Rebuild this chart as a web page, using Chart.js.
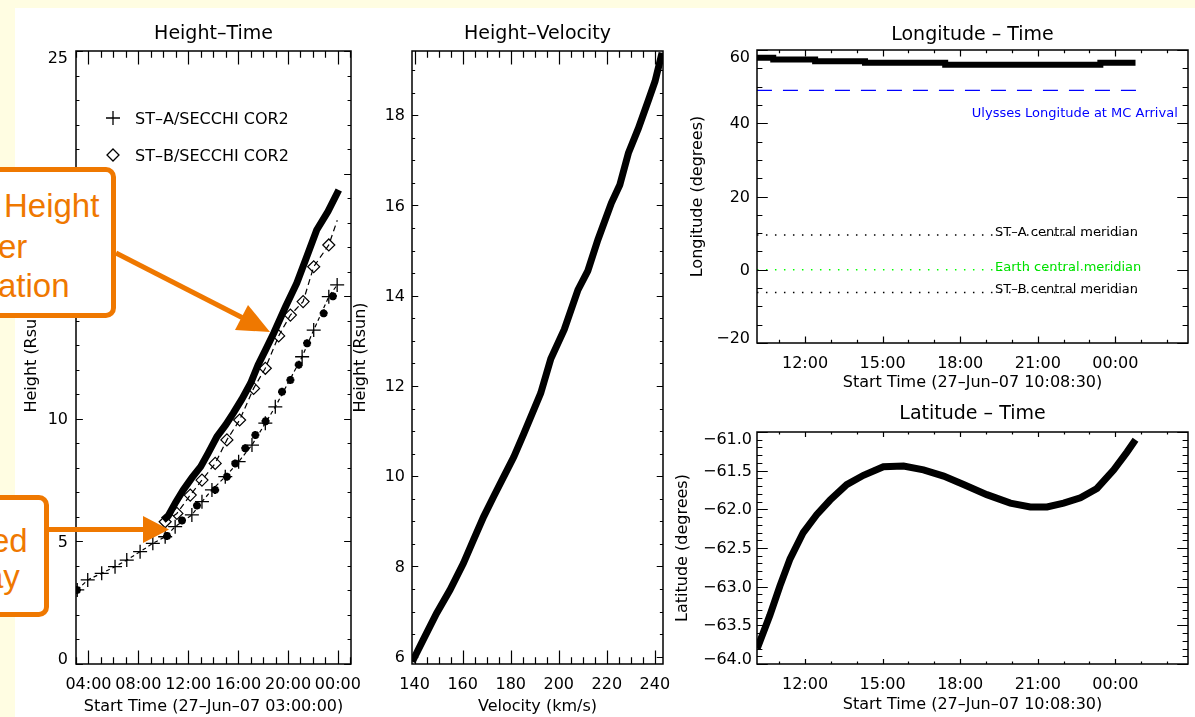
<!DOCTYPE html>
<html>
<head>
<meta charset="utf-8">
<script src="https://cdn.jsdelivr.net/npm/chart.js@4.4.1/dist/chart.umd.min.js"></script>
<style>
  html, body { margin: 0; padding: 0; }
  body { width: 1195px; height: 717px; background: #fffde2; position: relative; overflow: hidden; }
  #sheet { position: absolute; left: 15px; top: 8px; width: 1180px; height: 709px; background: #fff; }
  canvas { position: absolute; }
  .note { position: absolute; background: #fff; border: 5px solid #ef7800; border-radius: 10px; box-sizing: border-box; }
  .nt { position: absolute; color: #ef7800; font-family: 'Liberation Sans', Arial, sans-serif; font-size: 33px; line-height: 1; white-space: nowrap; }
  #arrows { position: absolute; left: 0; top: 0; }
</style>
</head>
<body>
<div id="sheet"></div>
<canvas id="c1" width="384" height="707" style="left:16px;top:10px"></canvas>
<canvas id="c2" width="350" height="707" style="left:340px;top:10px"></canvas>
<canvas id="c3" width="525" height="390" style="left:670px;top:10px"></canvas>
<canvas id="c4" width="525" height="322" style="left:670px;top:395px"></canvas>

<div class="note" style="left:-60px;top:167px;width:176px;height:151px"></div>
<span class="nt" style="left:4px;top:189px">Height</span>
<span class="nt" style="left:-2px;top:230px">er</span>
<span class="nt" style="left:-2px;top:269px">ation</span>
<div class="note" style="left:-60px;top:495px;width:109px;height:122px"></div>
<span class="nt" style="left:-9px;top:524px">ed</span>
<span class="nt" style="left:-15px;top:560px">ay</span>
<svg id="arrows" width="1195" height="717">
  <line x1="116" y1="253" x2="242" y2="317.5" stroke="#ef7800" stroke-width="5"/>
  <polygon points="270,332 235,330 248,305" fill="#ef7800"/>
  <line x1="48" y1="529.5" x2="145" y2="529.5" stroke="#ef7800" stroke-width="5"/>
  <polygon points="143,516 143,543 169,529.5" fill="#ef7800"/>
</svg>

<script>
// Height-Time (hours from 27-Jun-07 00:00)
const fitTime = [10.0, 10.4, 11.0, 11.6, 12.3, 13.0, 13.6, 14.3, 15.0, 15.6, 16.3, 17.0, 17.6, 18.2, 18.85, 19.8, 20.7, 21.5, 22.3, 23.2, 24.07];
const fitHeight = [5.87, 6.05, 6.6, 7.1, 7.6, 8.05, 8.6, 9.27, 9.75, 10.22, 10.8, 11.45, 12.2, 12.81, 13.49, 14.57, 15.53, 16.61, 17.7, 18.45, 19.33];
const stATime = [3.1, 3.94, 5.06, 6.13, 7.07, 8.14, 9.16, 10.15, 10.95, 12.29, 13.1, 13.9, 14.97, 16.04, 17.11, 18.18, 18.98, 21.13, 22.06, 23.27, 23.94];
const stAHeight = [3.02, 3.43, 3.7, 3.97, 4.24, 4.58, 4.92, 5.19, 5.6, 6.08, 6.62, 7.1, 7.64, 8.25, 8.93, 9.82, 10.49, 12.53, 13.62, 14.98, 15.46];
const starTime = [3.08, 10.3, 11.5, 12.7, 14.16, 15.1, 15.77, 16.57, 17.38, 18.2, 19.52, 20.19, 20.86, 21.53, 22.86, 23.6];
const starHeight = [3.02, 5.22, 5.85, 6.46, 7.1, 7.64, 8.18, 8.8, 9.34, 9.9, 11.1, 11.58, 12.2, 13.08, 14.3, 15.0];
const stBTime = [10.15, 11.09, 12.16, 13.1, 14.16, 15.1, 16.12, 17.24, 18.18, 19.25, 20.19, 21.21, 22.06, 23.27, 23.95];
const stBHeight = [5.8, 6.14, 6.89, 7.5, 8.18, 9.14, 9.95, 11.24, 12.06, 13.38, 14.23, 14.78, 16.2, 17.09, 18.1];
const htTimeTicks = [4, 8, 12, 16, 20, 24];
const htHeightTicks = [0, 5, 10, 15, 20, 25];

// Height-Velocity
const hvVelocity = [139.0, 143.5, 149.1, 154.7, 160.3, 164.5, 168.7, 172.9, 177.1, 181.3, 185.5, 192.5, 196.7, 202.3, 208.0, 212.1, 216.3, 221.9, 225.4, 229.0, 233.1, 237.4, 240.1, 243.0];
const hvHeight = [5.89, 6.37, 6.96, 7.48, 8.07, 8.59, 9.1, 9.55, 9.99, 10.43, 10.95, 11.84, 12.6, 13.25, 14.13, 14.55, 15.24, 16.05, 16.45, 17.16, 17.7, 18.34, 18.75, 19.38];
const hvVelTicks = [140, 160, 180, 200, 220, 240];
const hvHeightTicks = [6, 8, 10, 12, 14, 16, 18];

// Longitude-Time
const lonTime = [10.14, 10.77, 12.39, 14.32, 17.42, 23.42, 24.78];
const lonValue = [57.9, 57.4, 56.9, 56.5, 56.0, 56.5, 56.5];
const refStart = 10.14, refEnd = 24.8;
const ulyssesLon = 49.0, stALon = 9.5, earthLon = 0, stBLon = -6.2;
const lonTicks = [-20, 0, 20, 40, 60];
const clockTicks = [12, 15, 18, 21, 24];

// Latitude-Time
const latTime = [10.15, 10.64, 11.03, 11.42, 11.93, 12.45, 12.97, 13.61, 14.26, 15.03, 15.81, 16.58, 17.36, 18.13, 19.03, 19.94, 20.71, 21.36, 22.0, 22.65, 23.29, 23.94, 24.45, 24.78];
const latValue = [-63.8, -63.37, -62.99, -62.64, -62.3, -62.07, -61.88, -61.68, -61.56, -61.45, -61.44, -61.49, -61.57, -61.68, -61.81, -61.92, -61.97, -61.97, -61.92, -61.85, -61.73, -61.49, -61.26, -61.1];
const latTicks = [-64, -63.5, -63, -62.5, -62, -61.5, -61];

Chart.defaults.font.family = "'DejaVu Sans', sans-serif";
Chart.defaults.font.size = 16;
Chart.defaults.color = '#000';
Chart.defaults.animation = false;

const pts = (xs, ys) => xs.map((x, i) => ({ x: x, y: ys[i] }));
const minus = s => String(s).replace('-', '\u2212');
const clock = v => String(v % 24).padStart(2, '0') + ':00';
const plain = v => String(v);

function steps(min, max, step) {
    const out = [];
    for (let i = Math.ceil(min / step - 1e-9); i * step <= max + 1e-9; i++) out.push(i * step);
    return out;
}

// IDL style box with inward ticks on all four sides
const idlFrame = {
    id: 'idlFrame',
    afterDatasetsDraw(chart, args, o) {
        const { ctx, chartArea: a, scales: { x, y } } = chart;
        const xl = a.height * 0.022, yl = a.width * 0.025;
        const major = (v, m) => Math.abs(v / m - Math.round(v / m)) < 1e-6;
        ctx.save();
        ctx.strokeStyle = '#000';
        ctx.lineWidth = 1.2;
        ctx.beginPath();
        steps(x.min, x.max, o.xMinor).forEach(v => {
            const px = Math.round(x.getPixelForValue(v)) + 0.5;
            const len = major(v, o.xMajor) ? xl : xl / 2;
            ctx.moveTo(px, a.bottom); ctx.lineTo(px, a.bottom - len);
            ctx.moveTo(px, a.top); ctx.lineTo(px, a.top + len);
        });
        steps(y.min, y.max, o.yMinor).forEach(v => {
            const py = Math.round(y.getPixelForValue(v)) + 0.5;
            const len = major(v, o.yMajor) ? yl : yl / 2;
            ctx.moveTo(a.left, py); ctx.lineTo(a.left + len, py);
            ctx.moveTo(a.right, py); ctx.lineTo(a.right - len, py);
        });
        ctx.stroke();
        ctx.lineWidth = 1.5;
        ctx.strokeRect(a.left, a.top, a.width, a.height);

        // y tick labels, end labels kept inside the box like IDL does
        ctx.fillStyle = '#000';
        ctx.font = "16px 'DejaVu Sans'";
        ctx.textAlign = 'right';
        ctx.textBaseline = 'middle';
        o.yTicks.forEach(v => {
            const py = Math.min(Math.max(y.getPixelForValue(v), a.top + 6.5), a.bottom - 5);
            ctx.fillText(o.yFmt(v), a.left - o.yPad, py + 1);
        });
        ctx.restore();
    }
};

// panel titles, line notes and the small legend
const panelText = {
    id: 'panelText',
    afterDraw(chart, args, o) {
        const { ctx, chartArea: a, scales: { x, y } } = chart;
        ctx.save();
        ctx.fillStyle = '#000';
        ctx.font = "19px 'DejaVu Sans'";
        ctx.textAlign = 'center';
        ctx.textBaseline = 'middle';
        ctx.fillText(o.title, (a.left + a.right) / 2, a.top - o.titleGap);
        ctx.textAlign = 'left';
        ctx.textBaseline = 'alphabetic';
        (o.notes || []).forEach(n => {
            ctx.font = "13px 'DejaVu Sans'";
            ctx.fillStyle = n.color;
            ctx.fillText(n.text, x.getPixelForValue(n.x), y.getPixelForValue(n.y) + n.dy);
        });
        (o.legend || []).forEach((item, i) => {
            const cx = a.left + 37, cy = a.top + 67 + i * 37;
            ctx.strokeStyle = '#000';
            ctx.lineWidth = 1.3;
            ctx.beginPath();
            if (item.sym === 'plus') {
                ctx.moveTo(cx - 7, cy); ctx.lineTo(cx + 7, cy);
                ctx.moveTo(cx, cy - 7); ctx.lineTo(cx, cy + 7);
            } else {
                ctx.moveTo(cx, cy - 6); ctx.lineTo(cx + 6, cy);
                ctx.lineTo(cx, cy + 6); ctx.lineTo(cx - 6, cy); ctx.closePath();
            }
            ctx.stroke();
            ctx.fillStyle = '#000';
            ctx.font = "16px 'DejaVu Sans'";
            ctx.fillText(item.text, a.left + 59, cy + 6);
        });
        ctx.restore();
    }
};

Chart.register(idlFrame, panelText);

function axis(c) {
    return {
        type: 'linear',
        min: c.min,
        max: c.max,
        grid: { display: false, drawTicks: false },
        border: { display: false },
        ticks: { display: !c.vertical, autoSkip: false, maxRotation: 0, padding: c.labelPad, callback: c.fmt },
        title: {
            display: true, text: c.title, font: { size: 16 },
            padding: c.vertical ? { top: c.titlePad } : { bottom: c.titlePad }
        },
        afterBuildTicks: s => { s.ticks = c.ticks.map(v => ({ value: v })); },
        afterFit: s => { if (c.vertical) s.width = c.size; else s.height = c.size; }
    };
}

function baseOptions(pad, xs, ys, frame, text) {
    return {
        responsive: false,
        devicePixelRatio: 1,
        layout: { padding: { top: pad.top, right: pad.right, left: 0, bottom: 0 } },
        scales: { x: xs, y: ys },
        plugins: { legend: { display: false }, tooltip: { enabled: false }, idlFrame: frame, panelText: text }
    };
}

new Chart(document.getElementById('c1'), {
    type: 'scatter',
    data: {
        datasets: [
            { data: pts(stATime, stAHeight), showLine: true, borderColor: '#000', borderWidth: 1.2, borderDash: [4, 3],
              pointStyle: 'cross', pointRadius: 7, pointBorderWidth: 1.3, pointBorderColor: '#000' },
            { data: pts(starTime, starHeight), showLine: false, pointStyle: 'star', pointRadius: 4,
              pointBorderWidth: 2.5, pointBorderColor: '#000' },
            { data: pts(stBTime, stBHeight), showLine: true, borderColor: '#000', borderWidth: 1.2, borderDash: [6, 4],
              pointStyle: 'rectRot', pointRadius: stBTime.map((t, i) => i === stBTime.length - 1 ? 0 : 6),
              pointBorderWidth: 1.2, pointBorderColor: '#000', pointBackgroundColor: 'rgba(0,0,0,0)' },
            { data: pts(fitTime, fitHeight), showLine: true, borderColor: '#000', borderWidth: 7, pointRadius: 0 }
        ]
    },
    options: baseOptions({ top: 41, right: 49 },
        axis({ min: 3, max: 25.05, ticks: htTimeTicks, fmt: clock, title: 'Start Time (27\u2013Jun\u201307 03:00:00)', size: 53, titlePad: 0.7, labelPad: 11 }),
        axis({ min: 0, max: 25, ticks: htHeightTicks, title: 'Height (Rsun)', size: 60, titlePad: 6.4, vertical: true }),
        { xMajor: 4, xMinor: 1, yMajor: 5, yMinor: 1, yTicks: htHeightTicks, yFmt: plain, yPad: 8 },
        { title: 'Height\u2013Time', titleGap: 16.5,
          legend: [{ sym: 'plus', text: 'ST\u2013A/SECCHI COR2' }, { sym: 'diamond', text: 'ST\u2013B/SECCHI COR2' }] })
});

new Chart(document.getElementById('c2'), {
    type: 'scatter',
    data: {
        datasets: [
            { data: pts(hvVelocity, hvHeight), showLine: true, borderColor: '#000', borderWidth: 7, pointRadius: 0 }
        ]
    },
    options: baseOptions({ top: 41, right: 27 },
        axis({ min: 138.9, max: 243.4, ticks: hvVelTicks, fmt: plain, title: 'Velocity (km/s)', size: 53, titlePad: 0.7, labelPad: 11 }),
        axis({ min: 5.84, max: 19.42, ticks: hvHeightTicks, title: 'Height (Rsun)', size: 72, titlePad: 11.4, vertical: true }),
        { xMajor: 20, xMinor: 5, yMajor: 2, yMinor: 0.5, yTicks: hvHeightTicks, yFmt: plain, yPad: 7 },
        { title: 'Height\u2013Velocity', titleGap: 16.5 })
});

new Chart(document.getElementById('c3'), {
    type: 'scatter',
    data: {
        datasets: [
            { data: pts(lonTime, lonValue), showLine: true, stepped: true, borderColor: '#000', borderWidth: 6, pointRadius: 0 },
            { data: pts([refStart, refEnd], [ulyssesLon, ulyssesLon]), showLine: true, borderColor: '#0000ff', borderWidth: 1.3, borderDash: [15, 11], pointRadius: 0 },
            { data: pts([refStart, refEnd], [stALon, stALon]), showLine: true, borderColor: '#000', borderWidth: 1.5, borderDash: [1.5, 7.5], pointRadius: 0 },
            { data: pts([refStart, refEnd], [earthLon, earthLon]), showLine: true, borderColor: '#00ff00', borderWidth: 1.5, borderDash: [1.5, 7.5], pointRadius: 0 },
            { data: pts([refStart, refEnd], [stBLon, stBLon]), showLine: true, borderColor: '#000', borderWidth: 1.5, borderDash: [1.5, 7.5], pointRadius: 0 }
        ]
    },
    options: baseOptions({ top: 40, right: 7 },
        axis({ min: 10.142, max: 26.81, ticks: clockTicks, fmt: clock, title: 'Start Time (27\u2013Jun\u201307 10:08:30)', size: 57, titlePad: 7.4, labelPad: 11 }),
        axis({ min: -20, max: 60, ticks: lonTicks, title: 'Longitude (degrees)', size: 87, titlePad: 18.4, vertical: true }),
        { xMajor: 3, xMinor: 1, yMajor: 20, yMinor: 5, yTicks: lonTicks, yFmt: minus, yPad: 7 },
        { title: 'Longitude \u2013 Time', titleGap: 15,
          notes: [
              { text: 'Ulysses Longitude at MC Arrival', x: 18.45, y: ulyssesLon, dy: 27, color: '#0000ff' },
              { text: 'ST\u2013A central meridian', x: 19.35, y: stALon, dy: 1, color: '#000' },
              { text: 'Earth central meridian', x: 19.35, y: earthLon, dy: 1, color: '#00e000' },
              { text: 'ST\u2013B central meridian', x: 19.35, y: stBLon, dy: 1, color: '#000' }
          ] })
});

new Chart(document.getElementById('c4'), {
    type: 'scatter',
    data: {
        datasets: [
            { data: pts(latTime, latValue), showLine: true, borderColor: '#000', borderWidth: 7, pointRadius: 0 }
        ]
    },
    options: baseOptions({ top: 37, right: 7 },
        axis({ min: 10.142, max: 26.81, ticks: clockTicks, fmt: clock, title: 'Start Time (27\u2013Jun\u201307 10:08:30)', size: 53, titlePad: 2.4, labelPad: 11 }),
        axis({ min: -64, max: -61, ticks: latTicks, title: 'Latitude (degrees)', size: 87, titlePad: 3.4, vertical: true }),
        { xMajor: 3, xMinor: 1, yMajor: 0.5, yMinor: 0.1, yTicks: latTicks, yFmt: v => minus(v.toFixed(1)), yPad: 5 },
        { title: 'Latitude \u2013 Time', titleGap: 18 })
});
</script>
</body>
</html>
